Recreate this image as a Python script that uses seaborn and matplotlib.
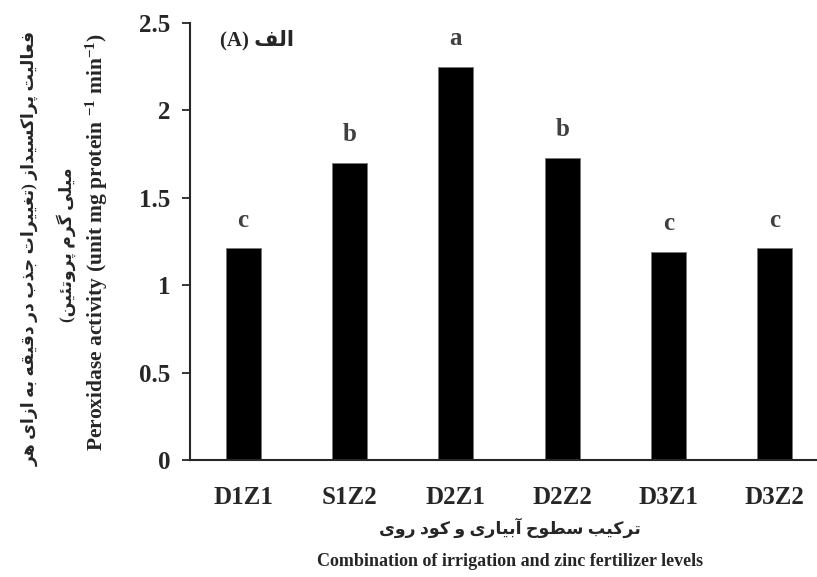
import unicodedata
import matplotlib
matplotlib.use('Agg')
import matplotlib.pyplot as plt
import pandas as pd
import seaborn as sns

# Data
treatments = ['D1Z1', 'S1Z2', 'D2Z1', 'D2Z2', 'D3Z1', 'D3Z2']
peroxidase = [1.21, 1.70, 2.25, 1.73, 1.19, 1.21]
groups = ['c', 'b', 'a', 'b', 'c', 'c']
y_ticks = [0, 0.5, 1, 1.5, 2, 2.5]
y_tick_labels = ['0', '0.5', '1', '1.5', '2', '2.5']

ylabel_fa_1 = 'فعالیت پراکسیداز (تغییرات جذب در دقیقه به ازای هر'
ylabel_fa_2 = 'میلی گرم پروتئین)'
ylabel_en = 'Peroxidase activity (unit mg protein $^{-1}$ min$^{-1}$)'
xlabel_fa = 'ترکیب سطوح آبیاری و کود روی'
xlabel_en = 'Combination of irrigation and zinc fertilizer levels'
panel_fa = 'الف'
panel_en = '(A)'

# Simple Persian shaping (matplotlib has no complex text layout)
RIGHT_JOIN = set('اآأإدذرزژوؤ')


def is_arabic(ch):
    return '\u0600' <= ch <= '\u06ff'


def joins_next(ch):
    return is_arabic(ch) and ch not in RIGHT_JOIN


def form(ch, kind):
    try:
        return unicodedata.lookup(unicodedata.name(ch) + ' ' + kind + ' FORM')
    except (KeyError, ValueError):
        return ch


def fa(text):
    out = []
    for i, ch in enumerate(text):
        if not is_arabic(ch):
            out.append(ch)
            continue
        prev = text[i - 1] if i > 0 else ' '
        nxt = text[i + 1] if i + 1 < len(text) else ' '
        p = joins_next(prev)
        n = joins_next(ch) and is_arabic(nxt)
        if p and n:
            out.append(form(ch, 'MEDIAL'))
        elif p:
            out.append(form(ch, 'FINAL'))
        elif n:
            out.append(form(ch, 'INITIAL'))
        else:
            out.append(form(ch, 'ISOLATED'))
    vis = ''.join(reversed(out))
    return vis.translate(str.maketrans('()', ')('))


df = pd.DataFrame({'treatment': treatments, 'value': peroxidase})

sns.set_style('ticks')
plt.rcParams['font.family'] = ['Liberation Serif', 'DejaVu Sans']
plt.rcParams['font.weight'] = 'bold'
plt.rcParams['mathtext.fontset'] = 'custom'
plt.rcParams['mathtext.rm'] = 'Liberation Serif:bold'
plt.rcParams['mathtext.it'] = 'Liberation Serif:bold'
plt.rcParams['mathtext.bf'] = 'Liberation Serif:bold'

fig = plt.figure(figsize=(8.17, 5.77), dpi=100)
ax = fig.add_axes([190 / 817, 117 / 577, 638 / 817, 437 / 577])

sns.barplot(data=df, x='treatment', y='value', color='black', width=0.33,
            saturation=1, edgecolor='#777777', linewidth=0.6, ax=ax)

for i, (v, g) in enumerate(zip(peroxidase, groups)):
    ax.annotate(g, (i, v), xytext=(0, 12), textcoords='offset points',
                ha='center', va='bottom', fontsize=18, fontweight='bold',
                color='#404040')

ax.set_ylim(0, 2.5)
ax.set_xlim(-0.5, 5.5)
ax.set_yticks(y_ticks)
ax.set_yticklabels(y_tick_labels)
ax.tick_params(axis='y', direction='out', length=6, width=1.3, labelsize=18, pad=8)
ax.tick_params(axis='x', length=0, labelsize=18, pad=19)
for lab in ax.get_xticklabels() + ax.get_yticklabels():
    lab.set_fontweight('bold')
sns.despine(ax=ax)
ax.spines['left'].set_linewidth(1.5)
ax.spines['bottom'].set_linewidth(1.5)
ax.set_xlabel('')
ax.set_ylabel('')

# panel label
ax.text(0.047, 0.961, panel_en + ' ' + fa(panel_fa), transform=ax.transAxes,
        ha='left', va='center', fontsize=15, fontweight='bold')

# y labels (three lines)
fig.text(30 / 817, 1 - 248 / 577, fa(ylabel_fa_1), rotation=90,
         ha='center', va='center', fontsize=12.4, fontweight='bold')
fig.text(66 / 817, 1 - 245 / 577, fa(ylabel_fa_2), rotation=90,
         ha='center', va='center', fontsize=12.4, fontweight='bold')
fig.text(97 / 817, 1 - 242 / 577, ylabel_en, rotation=90,
         ha='center', va='center', fontsize=15.5, fontweight='bold')

# x labels
fig.text(510 / 817, 1 - 528 / 577, fa(xlabel_fa), ha='center', va='center',
         fontsize=12.5, fontweight='bold')
fig.text(510 / 817, 1 - 562 / 577, xlabel_en, ha='center', va='center',
         fontsize=13, fontweight='bold')

fig.savefig('out.png', dpi=100)
